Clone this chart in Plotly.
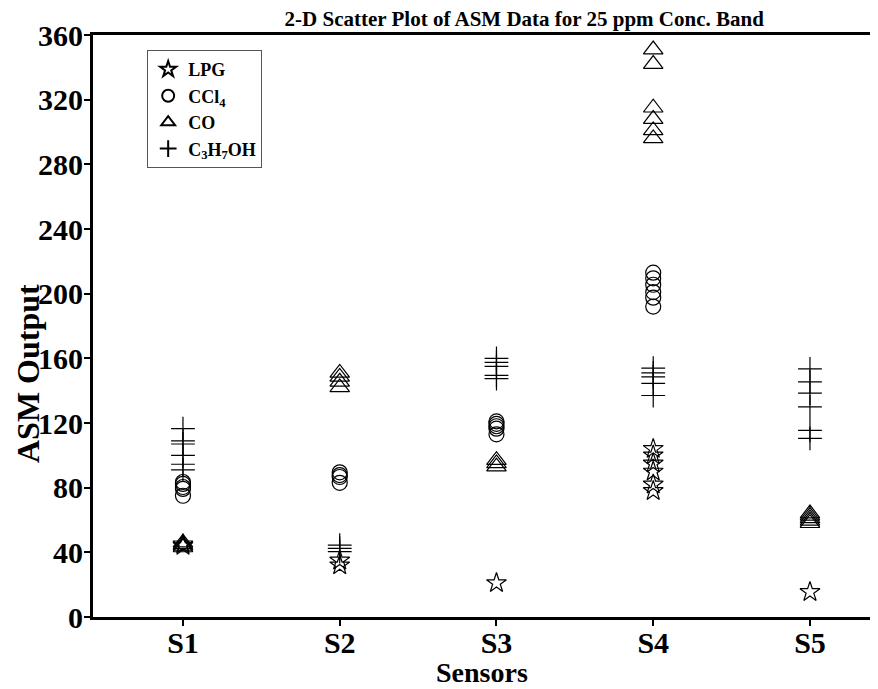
import plotly.graph_objects as go

sensors = ["S1", "S2", "S3", "S4", "S5"]

lpg = {
    "S1": [44, 45],
    "S2": [35, 32],
    "S3": [21],
    "S4": [104, 100, 95, 90, 82, 78],
    "S5": [15.5],
}
ccl4 = {
    "S1": [83.5, 82.3, 80.4, 79.2, 75],
    "S2": [89.5, 87.8, 86.6, 83],
    "S3": [121, 119.5, 118, 116.5, 113],
    "S4": [213, 209.5, 205.5, 201, 197.5, 192],
    "S5": [],
}
co = {
    "S1": [43, 44, 45, 46],
    "S2": [151, 148.5, 145.5, 142],
    "S3": [97, 95, 93],
    "S4": [351, 342, 315, 308, 301, 296],
    "S5": [64, 62.5, 61, 59.5, 58],
}
c3h7oh = {
    "S1": [116.5, 109, 107, 100, 94.5, 91],
    "S2": [44.5, 42.5, 40.5],
    "S3": [160, 157.5, 155, 149.5, 147.5],
    "S4": [154, 151, 148.5, 144.5, 137],
    "S5": [153.5, 145.5, 138.5, 130, 115.5, 110.5],
}

series = [
    ("<b>LPG</b>", lpg, "star-open", 15),
    ("<b>CCl<sub>4</sub></b>", ccl4, "circle-open", 15),
    ("<b>CO</b>", co, "triangle-up-open", 17),
    ("<b>C<sub>3</sub>H<sub>7</sub>OH</b>", c3h7oh, "cross-thin-open", 17),
]

fig = go.Figure()
for name, data, sym, size in series:
    xs, ys = [], []
    for s in sensors:
        for v in data[s]:
            xs.append(s)
            ys.append(v)
    fig.add_trace(go.Scatter(
        x=xs, y=ys, mode="markers", name=name,
        marker=dict(symbol=sym, size=size, color="black",
                    line=dict(color="black", width=1.2)),
    ))

font_family = "Liberation Serif"
fig.update_layout(
    width=878, height=689,
    paper_bgcolor="white", plot_bgcolor="white",
    margin=dict(l=85, r=8, t=27, b=80, autoexpand=False),
    font=dict(family=font_family, color="black"),
    title=dict(text="<b>2-D Scatter Plot of ASM Data for 25 ppm Conc. Band</b>",
               x=0.588, xanchor="center", y=0.984, yanchor="middle",
               xref="container", yref="container",
               font=dict(size=21, family=font_family, color="black")),
    showlegend=True,
    legend=dict(x=0.069, y=0.974, xanchor="left", yanchor="top",
                bordercolor="#555", borderwidth=1, bgcolor="white",
                font=dict(size=18, family=font_family, color="black"),
                itemsizing="constant", tracegroupgap=2),
    xaxis=dict(
        type="category", categoryorder="array", categoryarray=sensors,
        range=[-0.574, 4.434], automargin=False,
        showline=True, linecolor="black", linewidth=3, mirror=True,
        ticks="outside", ticklen=6, tickwidth=2, tickcolor="black",
        ticklabelstandoff=-9,
        showgrid=False, zeroline=False,
        tickfont=dict(size=30, family=font_family, color="black", weight="bold"),
    ),
    yaxis=dict(
        range=[0, 360], dtick=40, tick0=0, automargin=False,
        showline=True, linecolor="black", linewidth=3,
        ticks="outside", ticklen=6, tickwidth=2, tickcolor="black",
        ticklabelstandoff=-5,
        showgrid=False, zeroline=False,
        tickfont=dict(size=30, family=font_family, color="black", weight="bold"),
    ),
    annotations=[
        dict(text="<b>ASM Output</b>", textangle=-90, showarrow=False,
             xref="paper", yref="paper", x=-0.083, y=0.419,
             xanchor="center", yanchor="middle",
             font=dict(size=32, family=font_family, color="black")),
        dict(text="<b>Sensors</b>", showarrow=False,
             xref="paper", yref="paper", x=0.4955, y=-0.095,
             xanchor="center", yanchor="middle",
             font=dict(size=28, family=font_family, color="black")),
    ],
)

fig.write_html("out.html")
